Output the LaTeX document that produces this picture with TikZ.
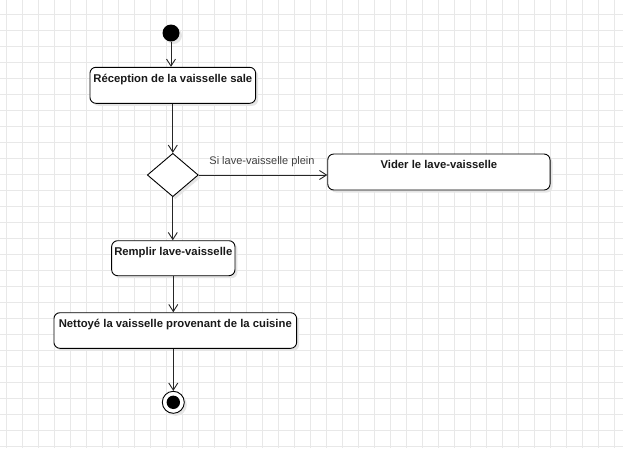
\documentclass[tikz,border=0pt]{standalone}
\usepackage{fontspec}
\setmainfont{Liberation Sans}
\usetikzlibrary{arrows.meta,shapes.geometric,shadows}
\begin{document}
\begin{tikzpicture}[x=1pt,y=-1pt,
  gridline/.style={draw=black!9, line width=0.8pt},
  shad/.style={drop shadow={shadow xshift=2.5pt, shadow yshift=-2.5pt, fill=black!10, opacity=1}},
  act/.style={draw=black, rounded corners=6pt, fill=white, line width=0.9pt, shad, inner sep=0pt},
  acttext/.style={font=\fontsize{11.3}{13}\selectfont\bfseries, anchor=base, inner sep=0pt, text=black!90},
  lbl/.style={font=\fontsize{11}{13}\selectfont, anchor=base, inner sep=0pt, text=black!75},
  flow/.style={draw=black!85, line width=0.9pt, -{Straight Barb[length=7pt,width=9pt]}},
  decision/.style={diamond, draw=black, fill=white, line width=0.9pt, minimum width=51pt, minimum height=43.4pt, inner sep=0pt, shad}
]
\useasboundingbox[fill=white] (0,0) rectangle (623,448);
\foreach \gx in {6.5,22.5,...,622} \draw[gridline] (\gx,0) -- (\gx,448);
\foreach \gy in {14.3,30.3,...,448} \draw[gridline] (0,\gy) -- (623,\gy);

\node[circle, fill=black, minimum size=17pt, inner sep=0pt, shad] (start) at (171,33) {};

\node[act, minimum width=165.7pt, minimum height=36pt] (b1) at (172.8,85.3) {};
\node[acttext] (t1) at ([yshift=-15.5pt]b1.north) {Réception de la vaisselle sale};

\node[decision] (d) at (172.8,175) {};

\node[act, minimum width=222.3pt, minimum height=36pt] (b2) at (438.9,172) {};
\node[acttext] (t2) at ([yshift=-15pt]b2.north) {Vider le lave-vaisselle};

\node[act, minimum width=123.3pt, minimum height=35pt] (b3) at (173.3,258.2) {};
\node[acttext] (t3) at ([yshift=-15pt]b3.north) {Remplir lave-vaisselle};

\node[act, minimum width=242.7pt, minimum height=35.6pt] (b4) at (175.3,330.5) {};
\node[acttext] (t4) at ([yshift=-15.3pt]b4.north) {Nettoyé la vaisselle provenant de la cuisine};

\node[circle, draw=black, fill=white, line width=0.9pt, minimum size=22pt, inner sep=0pt, shad] (e) at (173.3,402.3) {};
\node[circle, fill=black, minimum size=13.4pt, inner sep=0pt] (ei) at (e) {};

\draw[flow] (start) -- (start |- b1.north);
\draw[flow] (b1.south) -- (d.north);
\draw[flow] (d.east) -- (d.east -| b2.west);
\node[lbl] (l1) at (262,164.5) {Si lave-vaisselle plein};
\draw[flow] (d.south) -- (d.south |- b3.north);
\draw[flow] (b3.south) -- (b3.south |- b4.north);
\draw[flow] (b4.south -| e) -- (e.north);
\end{tikzpicture}
\end{document}
